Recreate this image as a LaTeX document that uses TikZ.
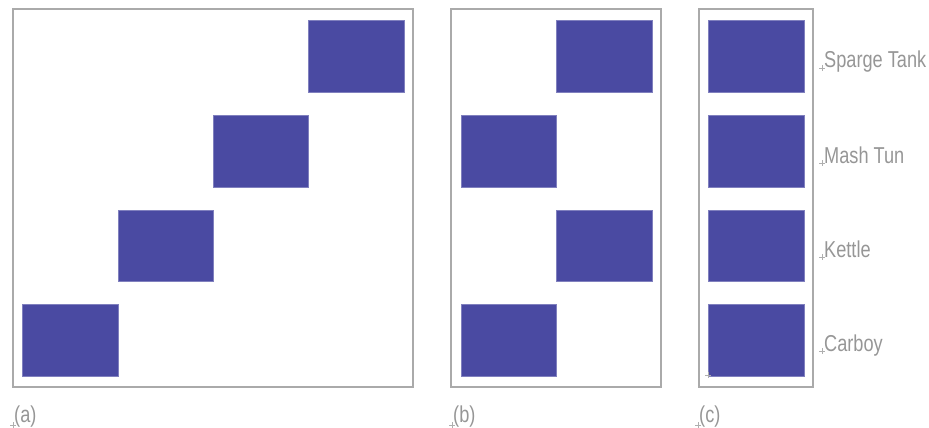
\documentclass[tikz,border=0pt]{standalone}
\usepackage{fontspec}
\setmainfont{Liberation Sans}
\definecolor{blk}{RGB}{74,74,162}
\definecolor{frm}{RGB}{170,170,170}
\definecolor{txt}{RGB}{150,150,150}
\definecolor{crs}{RGB}{175,175,175}
\begin{document}
\begin{tikzpicture}[x=1pt,y=-1pt,
  frame/.style={draw=frm,line width=2pt},
  blockbox/.style={fill=blk,draw=blk!70!white,line width=0.6pt},
  lbl/.style={anchor=base west,inner sep=0pt,text=txt,font=\fontsize{23}{27}\selectfont},
  crossmark/.style={draw=crs,line width=0.5pt}]
\useasboundingbox (0,0) rectangle (929,428);
% frames
\draw[frame] (13,9) rectangle (413,387);
\draw[frame] (451,9) rectangle (661,387);
\draw[frame] (699,9) rectangle (813,387);
% (a) staircase
\draw[blockbox] (308,20) rectangle (404,92);
\draw[blockbox] (213,115) rectangle (308,187);
\draw[blockbox] (118,210) rectangle (213,281);
\draw[blockbox] (22,304) rectangle (118,376);
% (b) alternating
\draw[blockbox] (556,20) rectangle (652,92);
\draw[blockbox] (461,115) rectangle (556,187);
\draw[blockbox] (556,210) rectangle (652,281);
\draw[blockbox] (461,304) rectangle (556,376);
% (c) column
\draw[blockbox] (708,20) rectangle (804,92);
\draw[blockbox] (708,115) rectangle (804,187);
\draw[blockbox] (708,210) rectangle (804,281);
\draw[blockbox] (708,304) rectangle (804,376);
% labels
\node[lbl] (l1) at (824,68) {\scalebox{0.79}[1]{Sparge Tank}};
\node[lbl] (l2) at (824,163) {\scalebox{0.79}[1]{Mash Tun}};
\node[lbl] (l3) at (824,257) {\scalebox{0.79}[1]{Kettle}};
\node[lbl] (l4) at (824,351) {\scalebox{0.79}[1]{Carboy}};
\node[lbl] (ca) at (14,422) {\scalebox{0.79}[1]{(a)}};
\node[lbl] (cb) at (453,422) {\scalebox{0.79}[1]{(b)}};
\node[lbl] (cc) at (699,422) {\scalebox{0.79}[1]{(c)}};
% small anchor crosses
\foreach \p in {(822,68),(822,163),(822,257),(822,351),(13,425),(452,425),(698,425),(708,375)}{
  \draw[crossmark] \p ++(-3,0) -- ++(6,0);
  \draw[crossmark] \p ++(0,-3) -- ++(0,6);
}
\end{tikzpicture}
\end{document}
